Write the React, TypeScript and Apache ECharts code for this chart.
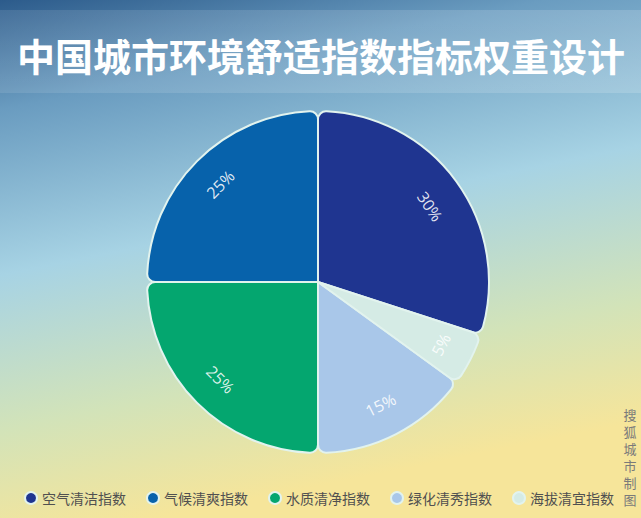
import React, { useEffect, useRef } from "react";
import * as echarts from "echarts";

const TITLE = "中国城市环境舒适指数指标权重设计";
const SOURCE = ["搜", "狐", "城", "市", "制", "图"];
const categories = ["空气清洁指数", "气候清爽指数", "水质清净指数", "绿化清秀指数", "海拔清宜指数"];
const weights = [30, 25, 25, 15, 5];
const colors = ["#1f3590", "#0762ab", "#04a66f", "#a9c7e9", "#d5ebe5"];

const CENTER = [318, 282];
const RADIUS = 171;
const LABEL_R = 135;

export default function App() {
  const ref = useRef<HTMLDivElement>(null);
  useEffect(() => {
    if (!ref.current) return;
    const chart = echarts.init(ref.current, null, { renderer: "svg" });
    const data = categories.map((name, i) => ({
      name,
      value: weights[i],
      itemStyle: { color: colors[i] },
    }));
    const font = "'Noto Sans CJK SC', 'Noto Sans', sans-serif";
    chart.setOption({
      animation: false,
      backgroundColor: {
        type: "linear",
        x: 0,
        y: 0,
        x2: 0.25,
        y2: 1,
        colorStops: [
          { offset: 0, color: "#2c5b8b" },
          { offset: 0.2, color: "#6a9cc0" },
          { offset: 0.5, color: "#a7d3e4" },
          { offset: 0.78, color: "#d2e3b9" },
          { offset: 1, color: "#f6e59a" },
        ],
      },
      graphic: [
        {
          type: "rect",
          left: 0,
          top: 10,
          shape: { width: 641, height: 83 },
          style: {
            fill: {
              type: "linear",
              x: 0,
              y: 0,
              x2: 1,
              y2: 0,
              colorStops: [
                { offset: 0, color: "rgba(255,255,255,0.1)" },
                { offset: 1, color: "rgba(255,255,255,0.16)" },
              ],
            },
          },
          silent: true,
        },
        {
          type: "text",
          x: 321,
          y: 54,
          style: {
            text: TITLE,
            fill: "#ffffff",
            font: `bold 38px ${font}`,
            textAlign: "center",
            textVerticalAlign: "middle",
          },
        },
        ...SOURCE.map((ch, i) => ({
          type: "text",
          x: 630,
          y: 414 + i * 17,
          style: {
            text: ch,
            fill: "#7a7a7a",
            fontSize: 13,
            fontFamily: font,
            textAlign: "center",
            textVerticalAlign: "middle",
          },
        })),
      ],
      legend: {
        data: categories,
        left: 19,
        top: 486,
        icon: "circle",
        itemWidth: 12,
        itemHeight: 12,
        itemGap: 20,
        textStyle: { fontSize: 14, color: "#505050", fontFamily: font },
      },
      series: [
        {
          type: "pie",
          center: CENTER,
          radius: RADIUS,
          startAngle: 342,
          clockwise: false,
          label: { show: false },
          labelLine: { show: false },
          itemStyle: { borderColor: "#e2f3ee", borderWidth: 2, borderRadius: 8 },
          emphasis: { disabled: true },
          data,
        },
        {
          type: "pie",
          center: CENTER,
          radius: [LABEL_R * 2 - RADIUS, RADIUS],
          startAngle: 342,
          clockwise: false,
          silent: true,
          itemStyle: { color: "rgba(0,0,0,0)", borderWidth: 0 },
          label: {
            show: true,
            position: "inside",
            rotate: "tangential",
            formatter: "{c}%",
            fontSize: 16,
            color: "rgba(255,255,255,0.88)",
            fontFamily: "'Open Sans', 'Noto Sans', sans-serif",
          },
          labelLayout: (params: any) => {
            if (params.dataIndex !== 0) return {};
            const theta = (34 * Math.PI) / 180;
            return {
              x: CENTER[0] + LABEL_R * Math.cos(theta),
              y: CENTER[1] - LABEL_R * Math.sin(theta),
              rotate: 34 - 90,
            };
          },
          labelLine: { show: false },
          emphasis: { disabled: true },
          data: categories.map((name, i) => ({ name, value: weights[i] })),
        },
      ],
    });
    return () => chart.dispose();
  }, []);
  return <div ref={ref} style={{ position: "fixed", left: 0, top: 0, width: 641, height: 518 }} />;
}
